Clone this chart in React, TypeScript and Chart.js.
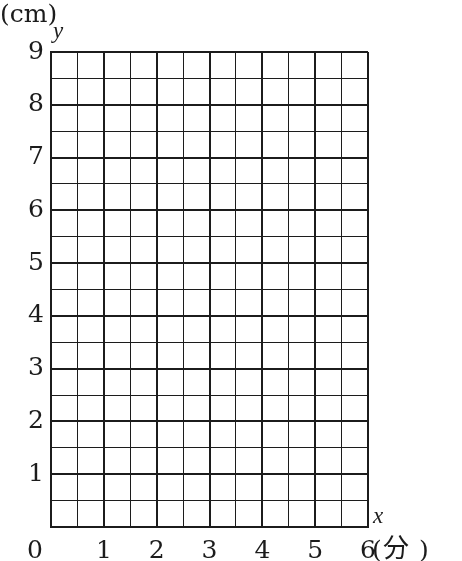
import React, { useEffect, useRef } from 'react';
import Chart from 'chart.js/auto';

// axis ranges and tick labels
const xMax = 6;
const yMax = 9;
const gridStep = 0.5;
const xTickLabels = ['1', '2', '3', '4', '5', '6'];
const yTickLabels = ['1', '2', '3', '4', '5', '6', '7', '8', '9'];
const originLabel = '0';
const xUnit = '分';
const yUnit = '(cm)';
const xName = 'x';
const yName = 'y';

const INK = '#1c1c1c';
const SERIF = '"DejaVu Serif", "Liberation Serif", serif';
const ITALIC = '"Liberation Serif", serif';
const CJK = '"Noto Sans CJK JP", sans-serif';
const FONT_SIZE = 25;

const isMajor = (v: number) => Math.abs(v - Math.round(v)) < 1e-6;

const labelsPlugin = {
  id: 'axisLabels',
  afterDraw(chart: Chart) {
    const { ctx, chartArea } = chart;
    const { left, right, top, bottom } = chartArea;
    ctx.save();
    ctx.fillStyle = INK;
    ctx.textBaseline = 'alphabetic';

    // unit of the y axis, above the plot
    ctx.font = `${FONT_SIZE}px ${SERIF}`;
    ctx.textAlign = 'left';
    ctx.fillText(yUnit, 0, top - 30);

    // origin
    ctx.textAlign = 'center';
    ctx.fillText(originLabel, left - 16, bottom + 31);

    // unit of the x axis, after the last tick
    ctx.textAlign = 'left';
    ctx.fillText('(', right + 4, bottom + 31);
    ctx.fillText(')', right + 51, bottom + 31);
    ctx.font = `26px ${CJK}`;
    ctx.fillText(xUnit, right + 15, bottom + 30);

    // axis names
    ctx.font = `italic 23px ${ITALIC}`;
    ctx.fillText(yName, left + 2, top - 14);
    ctx.fillText(xName, right + 5, bottom - 4);
    ctx.restore();
  },
};

const GridChart: React.FC = () => {
  const canvasRef = useRef<HTMLCanvasElement>(null);
  const chartRef = useRef<Chart | null>(null);

  useEffect(() => {
    const ctx = canvasRef.current?.getContext('2d');
    if (!ctx) return;
    if (chartRef.current) chartRef.current.destroy();

    const gridWidth = (c: any) => (c.tick && isMajor(c.tick.value) ? 2 : 1);

    chartRef.current = new Chart(ctx, {
      type: 'scatter',
      data: { datasets: [{ data: [], showLine: false }] },
      options: {
        animation: false,
        responsive: true,
        maintainAspectRatio: false,
        layout: { padding: { top: 52, right: 94, left: 0, bottom: 0 } },
        plugins: { legend: { display: false }, tooltip: { enabled: false } },
        scales: {
          x: {
            type: 'linear',
            min: 0,
            max: xMax,
            afterFit: (scale: any) => {
              scale.height = 34;
            },
            border: { display: true, color: INK, width: 2 },
            grid: { color: INK, lineWidth: gridWidth, drawTicks: false },
            ticks: {
              stepSize: gridStep,
              autoSkip: false,
              maxRotation: 0,
              padding: 9,
              color: INK,
              font: { family: SERIF, size: FONT_SIZE },
              callback: (v: any) => {
                const n = Number(v);
                return isMajor(n) && n > 0 ? xTickLabels[Math.round(n) - 1] : '';
              },
            },
          },
          y: {
            type: 'linear',
            min: 0,
            max: yMax,
            afterFit: (scale: any) => {
              scale.width = 51;
            },
            border: { display: true, color: INK, width: 2 },
            grid: { color: INK, lineWidth: gridWidth, drawTicks: false },
            ticks: {
              stepSize: gridStep,
              autoSkip: false,
              padding: 7,
              color: INK,
              font: { family: SERIF, size: FONT_SIZE },
              callback: (v: any) => {
                const n = Number(v);
                return isMajor(n) && n > 0 ? yTickLabels[Math.round(n) - 1] : '';
              },
            },
          },
        },
      },
      plugins: [labelsPlugin],
    });

    return () => {
      chartRef.current?.destroy();
      chartRef.current = null;
    };
  }, []);

  return (
    <div style={{ position: 'fixed', left: 0, top: 0, width: 462, height: 561, background: '#fff' }}>
      <canvas ref={canvasRef} />
    </div>
  );
};

export default function App() {
  return <GridChart />;
}
